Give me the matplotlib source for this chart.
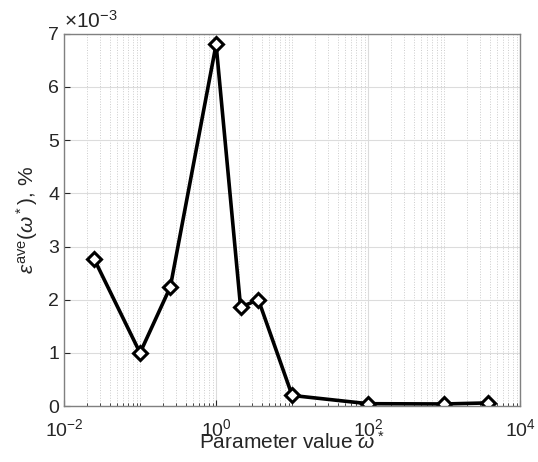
import numpy as np
import matplotlib.pyplot as plt
from matplotlib.ticker import LogLocator, NullFormatter, FixedLocator

plt.rcParams['font.family'] = ['Liberation Sans', 'DejaVu Sans']
plt.rcParams['mathtext.fontset'] = 'custom'
plt.rcParams['mathtext.rm'] = 'Liberation Sans'
plt.rcParams['mathtext.it'] = 'Liberation Sans:italic'

# data (y in units of 1e-3 %)
omega = [0.025, 0.1, 0.25, 1.0, 2.1, 3.6, 10.0, 100.0, 1000.0, 3800.0]
err = [2.76, 1.0, 2.24, 6.8, 1.86, 2.0, 0.2, 0.045, 0.04, 0.06]
xticks = [1e-2, 1e0, 1e2, 1e4]
xticklabels = [r'$10^{-2}$', r'$10^{0}$', r'$10^{2}$', r'$10^{4}$']

fig = plt.figure(figsize=(5.38, 4.62), dpi=100)
ax = fig.add_axes([0.119, 0.121, 0.848, 0.806])

ax.plot(omega, err, color='black', linewidth=2.6, marker='D', markersize=7,
        markerfacecolor='white', markeredgecolor='black', markeredgewidth=2.2)

ax.set_xscale('log')
ax.set_xlim(1e-2, 1e4)
ax.set_ylim(0, 7)
ax.xaxis.set_major_locator(FixedLocator(xticks))
ax.set_xticklabels(xticklabels)
ax.xaxis.set_minor_locator(LogLocator(base=10, subs=np.arange(1, 10), numticks=20))
ax.xaxis.set_minor_formatter(NullFormatter())
ax.set_yticks(range(0, 8))

ax.grid(which='major', color='#dcdcdc', linewidth=0.8, linestyle='-')
ax.grid(which='minor', axis='x', color='#cccccc', linewidth=0.7, linestyle=':')
ax.set_axisbelow(True)

ax.tick_params(which='both', direction='in', labelsize=14, colors='#262626',
               top=False, right=False)
ax.tick_params(which='major', length=4)
ax.tick_params(which='minor', length=2)
ax.tick_params(axis='x', pad=9)
for s in ax.spines.values():
    s.set_color('#808080')
    s.set_linewidth(1.0)

ax.set_xlabel(r'Parameter value $\omega^*$', fontsize=15, color='#262626', labelpad=-7)
ax.set_ylabel(r'$\epsilon^{\rm ave}(\omega^*)$, %', fontsize=15, color='#262626', labelpad=6)
ax.text(0.0, 1.005, r'$\times10^{-3}$', transform=ax.transAxes, fontsize=15,
        color='#262626', ha='left', va='bottom')

fig.savefig('out.png', dpi=100)
